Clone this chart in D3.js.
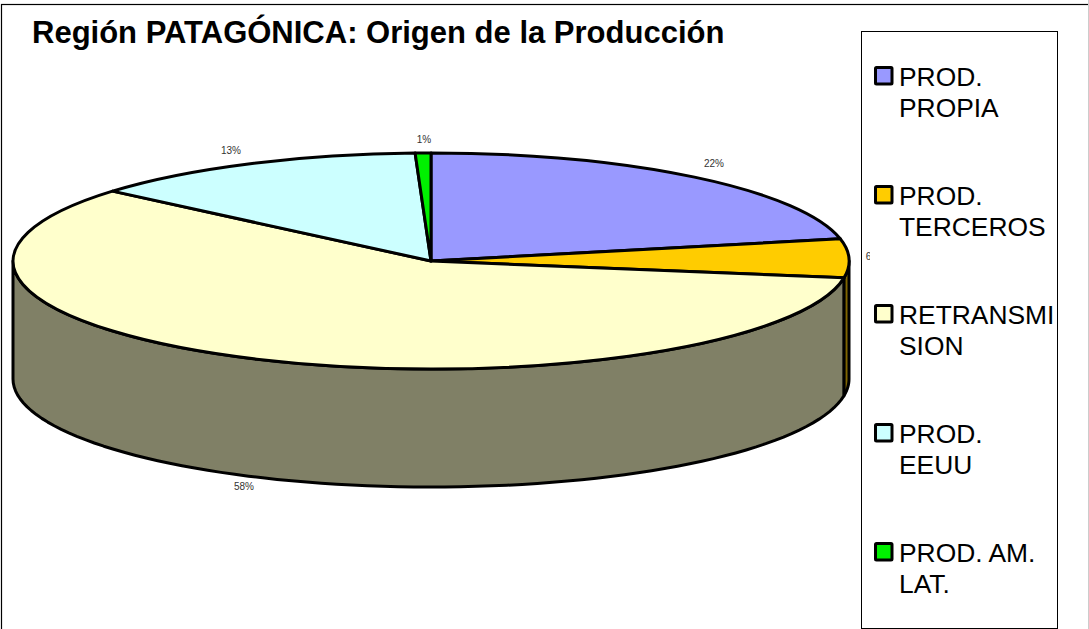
<!DOCTYPE html>
<html><head><meta charset="utf-8">
<script src="https://cdn.jsdelivr.net/npm/d3@7"></script>
<style>html,body{margin:0;padding:0;background:#fff}svg{display:block;font-family:"Liberation Sans",Arial,sans-serif}</style>
</head><body><svg id="c" width="1089" height="629"></svg>
<script>
const title = "Región PATAGÓNICA: Origen de la Producción";
const categories = ["PROD. PROPIA","PROD. TERCEROS","RETRANSMISION","PROD. EEUU","PROD. AM. LAT."];
const legendLines = [["PROD.","PROPIA"],["PROD.","TERCEROS"],["RETRANSMI","SION"],["PROD.","EEUU"],["PROD. AM.","LAT."]];
const values = [21.7,5.8,58.7,13.2,0.6];
const labels = ["22%","6%","58%","13%","1%"];
const colors = ["#9999ff","#ffcc00","#ffffcc","#ccffff","#00f000"];
const sideColors = ["#4d4d80","#806600","#808066","#668080","#007800"];
const labelPos = [[714,163],[873,256],[244,486],[231,150],[424,139]];

const svg = d3.select("#c");
const cx=431, cy=261, rx=418, ry=108, depth=118;
svg.append("clipPath").attr("id","cut").append("rect").attr("x",0).attr("y",0).attr("width",870).attr("height",629);
svg.append("rect").attr("x",1.5).attr("y",4.5).attr("width",1100).attr("height",640).attr("fill","#fff").attr("stroke","#000").attr("stroke-width",1.2);
svg.append("line").attr("x1",1088.5).attr("x2",1088.5).attr("y1",0).attr("y2",629).attr("stroke","#ccc").attr("stroke-width",1);

const arcs = d3.pie().sort(null)(values);
const X = d3.scaleLinear().domain([-1,1]).range([cx-rx,cx+rx]);
const Y = d3.scaleLinear().domain([-1,1]).range([cy-ry,cy+ry]);
const px = a=>X(Math.sin(a)), py = a=>Y(-Math.cos(a));

// side walls (front half only)
const line = d3.line();
arcs.forEach((d,i)=>{
  const a0=Math.max(d.startAngle,Math.PI/2), a1=Math.min(d.endAngle,3*Math.PI/2);
  if(a1<=a0) return;
  const n=80, ang=d3.range(n+1).map(k=>a0+(a1-a0)*k/n);
  const pts=ang.map(a=>[px(a),py(a)]).concat(ang.slice().reverse().map(a=>[px(a),py(a)+depth]));
  svg.append("path").attr("d",line(pts)+"Z").attr("fill",sideColors[i]).attr("stroke","#000").attr("stroke-width",3).attr("stroke-linejoin","round");
});

// top face
const g = svg.append("g").attr("transform",`translate(${cx},${cy}) scale(${rx},${ry})`);
const arc = d3.arc().innerRadius(0).outerRadius(1);
g.selectAll("path").data(arcs).join("path").attr("d",arc)
  .attr("fill",(d,i)=>colors[i]).attr("stroke","#000").attr("stroke-width",3)
  .attr("stroke-linejoin","round").attr("vector-effect","non-scaling-stroke");

svg.append("text").attr("x",32).attr("y",42.5).attr("font-size",31).attr("font-weight","bold").attr("fill","#000").text(title);

// legend
svg.append("rect").attr("x",861.5).attr("y",31.5).attr("width",196).attr("height",597).attr("fill","#fff").attr("stroke","#000").attr("stroke-width",1);
const rowY = d3.scalePoint().domain(categories).range([76,552]);
const lg = svg.selectAll("g.r").data(categories).join("g").attr("class","r").attr("transform",d=>`translate(0,${rowY(d)})`);
lg.append("rect").attr("x",875.5).attr("y",-8.5).attr("width",16.5).attr("height",16.5).attr("rx",1).attr("fill",(d,i)=>colors[i]).attr("stroke","#000").attr("stroke-width",3);
lg.each(function(d,i){
  d3.select(this).selectAll("text").data(legendLines[i]).join("text")
    .attr("x",899).attr("y",(t,k)=>10+k*31.3).attr("font-size",26.4).attr("fill","#000").text(t=>t);
});

// data labels (the "6%" label is cut off at the legend, as in the source)
svg.selectAll("text.l").data(labels).join("text").attr("class","l")
  .attr("x",(d,i)=>labelPos[i][0]).attr("y",(d,i)=>labelPos[i][1]+3.5)
  .attr("text-anchor","middle").attr("font-size",10).attr("fill","#333")
  .attr("clip-path","url(#cut)").text(d=>d);
</script></body></html>
